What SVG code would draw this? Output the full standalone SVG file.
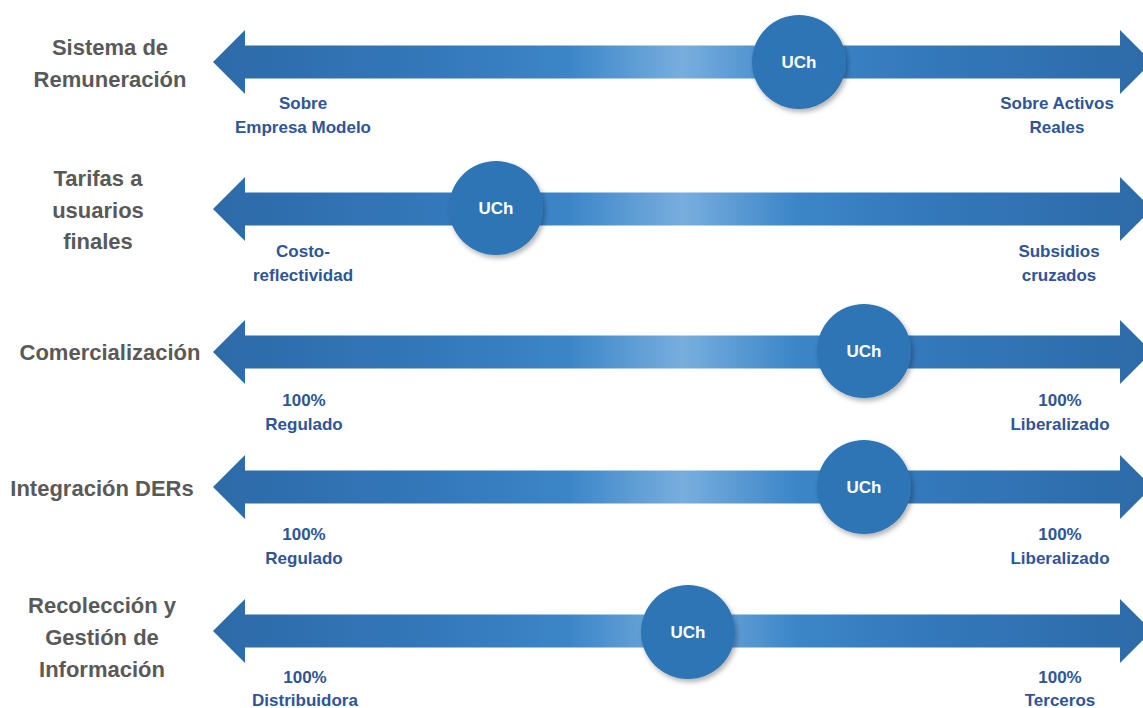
<svg xmlns="http://www.w3.org/2000/svg" width="1143" height="708" viewBox="0 0 1143 708">
<defs>
<linearGradient id="g" gradientUnits="userSpaceOnUse" x1="213" y1="0" x2="1152" y2="0">
<stop offset="0" stop-color="#2D6AA8"/>
<stop offset="0.25" stop-color="#3479BC"/>
<stop offset="0.38" stop-color="#3C86C8"/>
<stop offset="0.5" stop-color="#78AEDE"/>
<stop offset="0.62" stop-color="#3C86C8"/>
<stop offset="0.75" stop-color="#3479BC"/>
<stop offset="1" stop-color="#2D6AA8"/>
</linearGradient>
<filter id="sh" x="-30%" y="-30%" width="160%" height="160%">
<feDropShadow dx="2" dy="3" stdDeviation="2.5" flood-color="#000" flood-opacity="0.3"/>
</filter>
<path id="arr" d="M213,0 L245,-32 L245,-16.5 L1120,-16.5 L1120,-32 L1152,0 L1120,32 L1120,16.5 L245,16.5 L245,32 Z"/>
</defs>
<style>
.lbl{font-family:"Liberation Sans",Arial,sans-serif;font-weight:bold;font-size:22px;fill:#595959;text-anchor:middle}
.sub{font-family:"Liberation Sans",Arial,sans-serif;font-weight:bold;font-size:17px;fill:#2F5597;text-anchor:middle}
.uch{font-family:"Liberation Sans",Arial,sans-serif;font-weight:bold;font-size:17px;fill:#FFFFFF;text-anchor:middle}
.c{fill:#2E74B5;filter:url(#sh)}
.a{fill:url(#g)}
</style>
<rect width="1143" height="708" fill="#FFFFFF"/>
<g id="connectors">
<use href="#arr" class="a" transform="translate(0,62)"/>
<use href="#arr" class="a" transform="translate(0,209)"/>
<use href="#arr" class="a" transform="translate(0,352)"/>
<use href="#arr" class="a" transform="translate(0,487)"/>
<use href="#arr" class="a" transform="translate(0,631)"/>
</g>
<g id="row1">
<text class="lbl" x="110" y="55">Sistema de</text>
<text class="lbl" x="110" y="87">Remuneración</text>
<circle class="c" cx="799" cy="62" r="47"/>
<text class="uch" x="799" y="68">UCh</text>
<text class="sub" x="303" y="109">Sobre</text>
<text class="sub" x="303" y="133">Empresa Modelo</text>
<text class="sub" x="1057" y="109">Sobre Activos</text>
<text class="sub" x="1057" y="133">Reales</text>
</g>
<g id="row2">
<text class="lbl" x="98" y="186">Tarifas a</text>
<text class="lbl" x="98" y="218">usuarios</text>
<text class="lbl" x="98" y="249">finales</text>
<circle class="c" cx="496" cy="208" r="47"/>
<text class="uch" x="496" y="214">UCh</text>
<text class="sub" x="303" y="257">Costo-</text>
<text class="sub" x="303" y="281">reflectividad</text>
<text class="sub" x="1059" y="257">Subsidios</text>
<text class="sub" x="1059" y="281">cruzados</text>
</g>
<g id="row3">
<text class="lbl" x="110" y="360">Comercialización</text>
<circle class="c" cx="864" cy="351" r="47"/>
<text class="uch" x="864" y="357">UCh</text>
<text class="sub" x="304" y="406">100%</text>
<text class="sub" x="304" y="430">Regulado</text>
<text class="sub" x="1060" y="406">100%</text>
<text class="sub" x="1060" y="430">Liberalizado</text>
</g>
<g id="row4">
<text class="lbl" x="102" y="496">Integración DERs</text>
<circle class="c" cx="864" cy="487" r="47"/>
<text class="uch" x="864" y="493">UCh</text>
<text class="sub" x="304" y="540">100%</text>
<text class="sub" x="304" y="564">Regulado</text>
<text class="sub" x="1060" y="540">100%</text>
<text class="sub" x="1060" y="564">Liberalizado</text>
</g>
<g id="row5">
<text class="lbl" x="102" y="613">Recolección y</text>
<text class="lbl" x="102" y="645">Gestión de</text>
<text class="lbl" x="102" y="677">Información</text>
<circle class="c" cx="688" cy="632" r="47"/>
<text class="uch" x="688" y="638">UCh</text>
<text class="sub" x="305" y="683">100%</text>
<text class="sub" x="305" y="706">Distribuidora</text>
<text class="sub" x="1060" y="683">100%</text>
<text class="sub" x="1060" y="706">Terceros</text>
</g>
</svg>
